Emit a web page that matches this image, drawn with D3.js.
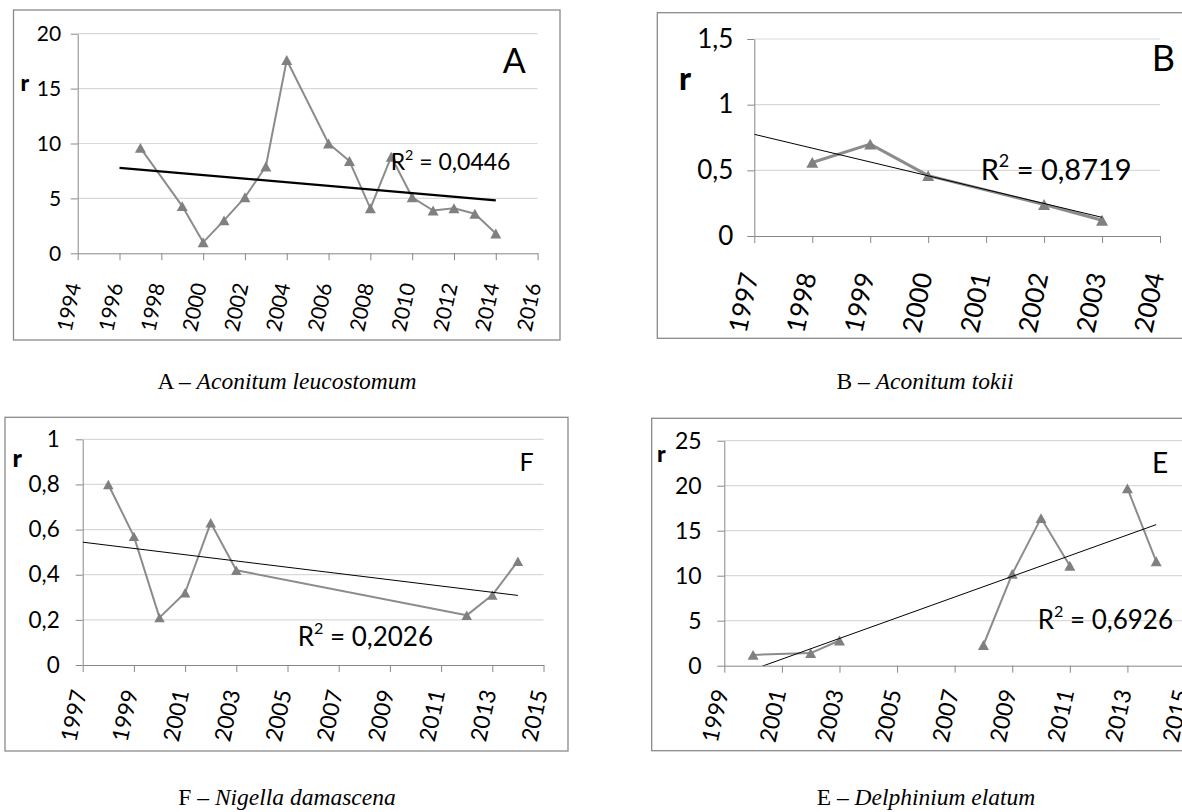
<!DOCTYPE html>
<html>
<head>
<meta charset="utf-8">
<script src="https://cdn.jsdelivr.net/npm/d3@7"></script>
<style>
  body { margin: 0; background: #fff; }
  svg { display: block; }
</style>
</head>
<body>
<svg id="fig" width="1182" height="812"></svg>
<script>
// Intrinsic growth rate r by census year, four species, each with a linear trend.

// A – Aconitum leucostomum
const yearsA = [1997, 1999, 2000, 2001, 2002, 2003, 2004, 2006, 2007, 2008, 2009, 2010, 2011, 2012, 2013, 2014];
const rA     = [9.6, 4.3, 1.0, 3.0, 5.1, 7.9, 17.6, 10.0, 8.4, 4.1, 8.8, 5.1, 3.9, 4.1, 3.6, 1.8];
const r2A    = "0,0446";
const xTicksA = [1994, 1996, 1998, 2000, 2002, 2004, 2006, 2008, 2010, 2012, 2014, 2016];
const yTicksA = [0, 5, 10, 15, 20];

// B – Aconitum tokii
const yearsB = [1998, 1999, 2000, 2002, 2003];
const rB     = [0.56, 0.70, 0.46, 0.24, 0.12];
const r2B    = "0,8719";
const xTicksB = [1997, 1998, 1999, 2000, 2001, 2002, 2003, 2004];
const yTicksB = [0, 0.5, 1, 1.5];

// F – Nigella damascena
const yearsF = [1998, 1999, 2000, 2001, 2002, 2003, 2012, 2013, 2014];
const rF     = [0.80, 0.57, 0.21, 0.32, 0.63, 0.42, 0.22, 0.31, 0.46];
const r2F    = "0,2026";
const xTicksF = [1997, 1999, 2001, 2003, 2005, 2007, 2009, 2011, 2013, 2015];
const yTicksF = [0, 0.2, 0.4, 0.6, 0.8, 1];

// E – Delphinium elatum (null = year without a census, the line breaks there)
const yearsE = [2000, 2002, 2003, 2004, 2005, 2006, 2007, 2008, 2009, 2010, 2011, 2012, 2013, 2014];
const rE     = [1.2, 1.4, 2.8, null, null, null, null, 2.3, 10.2, 16.4, 11.1, null, 19.7, 11.6];
const r2E    = "0,6926";
const xTicksE = [1999, 2001, 2003, 2005, 2007, 2009, 2011, 2013, 2015];
const yTicksE = [0, 5, 10, 15, 20, 25];

const SANS = 'Lato, "Open Sans", sans-serif';
const SERIF = '"Liberation Serif", "Times New Roman", serif';
const fmtComma = v => String(v).replace('.', ',');

const svg = d3.select('#fig');
const defs = svg.append('defs');

// triangle marker centred on its bounding box
const triangle = {
  draw(ctx, size) {
    const w = Math.sqrt(size);
    const h = w * 0.9;
    ctx.moveTo(0, -h / 2);
    ctx.lineTo(w / 2, h / 2);
    ctx.lineTo(-w / 2, h / 2);
    ctx.closePath();
  }
};

// least-squares line through the defined points
function linearFit(xs, ys) {
  const pts = xs.map((x, i) => [x, ys[i]]).filter(p => p[1] != null);
  const mx = d3.mean(pts, p => p[0]);
  const my = d3.mean(pts, p => p[1]);
  const sxy = d3.sum(pts, p => (p[0] - mx) * (p[1] - my));
  const sxx = d3.sum(pts, p => (p[0] - mx) ** 2);
  const b = sxy / sxx;
  return x => my + b * (x - mx);
}

function drawPanel(cfg, idx) {
  const g = svg.append('g');
  const p = cfg.plot;

  // chart frame
  g.append('rect')
    .attr('x', cfg.frame[0]).attr('y', cfg.frame[1])
    .attr('width', cfg.frame[2] - cfg.frame[0]).attr('height', cfg.frame[3] - cfg.frame[1])
    .attr('fill', 'none').attr('stroke', '#8a8a8a').attr('stroke-width', 1.3);

  const x = d3.scaleLinear().domain(cfg.xDomain).range([p.left, p.right]);
  const y = d3.scaleLinear().domain(cfg.yDomain).range([p.bottom, p.top]);

  // horizontal gridlines
  g.append('g').selectAll('line')
    .data(cfg.yTicks.filter(v => v > cfg.yDomain[0]))
    .join('line')
    .attr('x1', p.left).attr('x2', p.right)
    .attr('y1', d => y(d)).attr('y2', d => y(d))
    .attr('stroke', '#d9d9d9').attr('stroke-width', 1.2);

  // y axis
  const ya = g.append('g')
    .attr('transform', `translate(${p.left},0)`)
    .call(d3.axisLeft(y).tickValues(cfg.yTicks).tickSize(7).tickSizeOuter(0)
      .tickPadding(cfg.yPad).tickFormat(fmtComma));
  ya.select('.domain').attr('stroke', '#888');
  ya.selectAll('.tick line').attr('stroke', '#888');
  ya.selectAll('.tick text')
    .attr('fill', '#000').attr('font-family', SANS).attr('font-size', cfg.tickFont);

  // x axis with steeply rotated year labels
  const xa = g.append('g')
    .attr('transform', `translate(0,${p.bottom})`)
    .call(d3.axisBottom(x).tickValues(cfg.xTicks).tickSize(7).tickSizeOuter(0)
      .tickFormat(d => String(d)));
  xa.select('.domain').attr('stroke', '#888');
  xa.selectAll('.tick line').attr('stroke', '#888');
  xa.selectAll('.tick text')
    .attr('x', 0).attr('y', 0).attr('dy', '0.35em')
    .attr('transform', `translate(${cfg.xLabDx},${cfg.xLabDy}) rotate(-78)`)
    .attr('text-anchor', 'end')
    .attr('fill', '#000').attr('font-family', SANS).attr('font-size', cfg.tickFont);

  // clip for the trend line (it may run below zero)
  const clipId = 'clip' + idx;
  defs.append('clipPath').attr('id', clipId)
    .append('rect').attr('x', p.left).attr('y', p.top)
    .attr('width', p.right - p.left).attr('height', p.bottom - p.top);

  const pts = cfg.years.map((yr, i) => ({ x: yr, r: cfg.values[i] }));

  // observed series
  g.append('path')
    .datum(pts)
    .attr('fill', 'none')
    .attr('stroke', '#8c8c8c')
    .attr('stroke-width', cfg.lineWidth)
    .attr('stroke-linejoin', 'round')
    .attr('d', d3.line().defined(d => d.r != null).x(d => x(d.x)).y(d => y(d.r)));

  g.append('g').selectAll('path')
    .data(pts.filter(d => d.r != null))
    .join('path')
    .attr('transform', d => `translate(${x(d.x)},${y(d.r)})`)
    .attr('d', d3.symbol(triangle, cfg.marker * cfg.marker))
    .attr('fill', '#808080');

  // linear trend
  const fit = linearFit(cfg.years, cfg.values);
  g.append('path')
    .attr('clip-path', `url(#${clipId})`)
    .datum(cfg.trendRange)
    .attr('fill', 'none')
    .attr('stroke', '#000')
    .attr('stroke-width', cfg.trendWidth)
    .attr('d', d3.line().x(d => x(d)).y(d => y(fit(d))));

  // R² annotation
  const r2 = g.append('text')
    .attr('x', cfg.r2Pos[0]).attr('y', cfg.r2Pos[1])
    .attr('font-family', SANS).attr('font-size', cfg.r2Font).attr('fill', '#000');
  r2.append('tspan').text('R');
  r2.append('tspan').attr('dy', -cfg.r2Font * 0.45).attr('font-size', cfg.r2Font * 0.62).text('2');
  r2.append('tspan').attr('dy', cfg.r2Font * 0.45).text(' = ' + cfg.r2);

  // panel letter
  g.append('text')
    .attr('x', cfg.letterPos[0]).attr('y', cfg.letterPos[1])
    .attr('font-family', SANS).attr('font-size', cfg.letterFont).attr('fill', '#000')
    .text(cfg.letter);

  // y-axis title
  g.append('text')
    .attr('x', cfg.rPos[0]).attr('y', cfg.rPos[1])
    .attr('font-family', SANS).attr('font-weight', 900).attr('font-size', cfg.rFont).attr('fill', '#000')
    .text('r');

  // caption under the chart
  const cap = svg.append('text')
    .attr('x', cfg.captionPos[0]).attr('y', cfg.captionPos[1])
    .attr('text-anchor', 'middle')
    .attr('font-family', SERIF).attr('font-size', 23.5).attr('fill', '#000');
  cap.append('tspan').text(cfg.letter + ' – ');
  cap.append('tspan').attr('font-style', 'italic').text(cfg.species);
}

const panels = [
  {
    letter: 'A', species: 'Aconitum leucostomum',
    years: yearsA, values: rA, r2: r2A, xTicks: xTicksA, yTicks: yTicksA,
    xDomain: [1994, 2016], yDomain: [0, 20],
    frame: [13.5, 10, 560, 340],
    plot: { left: 77.7, right: 537.6, top: 33.7, bottom: 253.3 },
    tickFont: 21, yPad: 9.5, xLabDx: -4, xLabDy: 30,
    lineWidth: 2, marker: 11, trendWidth: 2.2, trendRange: [1996, 2014],
    r2Pos: [390.7, 170], r2Font: 23,
    letterPos: [502.7, 72.7], letterFont: 34,
    rPos: [20.5, 90.5], rFont: 23,
    captionPos: [287, 389]
  },
  {
    letter: 'B', species: 'Aconitum tokii',
    years: yearsB, values: rB, r2: r2B, xTicks: xTicksB, yTicks: yTicksB,
    xDomain: [1997, 2004], yDomain: [0, 1.5],
    frame: [657.3, 12.7, 1193, 338.3],
    plot: { left: 754.3, right: 1160, top: 39, bottom: 236 },
    tickFont: 26, yPad: 14, xLabDx: -5, xLabDy: 37,
    lineWidth: 3, marker: 12, trendWidth: 1, trendRange: [1997, 2003],
    r2Pos: [980.7, 180], r2Font: 29,
    letterPos: [1151.7, 70.7], letterFont: 36,
    rPos: [679, 90], rFont: 32,
    captionPos: [925, 389]
  },
  {
    letter: 'F', species: 'Nigella damascena',
    years: yearsF, values: rF, r2: r2F, xTicks: xTicksF, yTicks: yTicksF,
    xDomain: [1997, 2015], yDomain: [0, 1],
    frame: [5, 417.3, 568, 751],
    plot: { left: 82.7, right: 543.5, top: 439.3, bottom: 665 },
    tickFont: 22.5, yPad: 16, xLabDx: -4, xLabDy: 25,
    lineWidth: 2, marker: 10.5, trendWidth: 1, trendRange: [1997, 2014],
    r2Pos: [297.7, 645.7], r2Font: 26,
    letterPos: [519.5, 471], letterFont: 25,
    rPos: [12.5, 466.7], rFont: 25,
    captionPos: [287, 805]
  },
  {
    letter: 'E', species: 'Delphinium elatum',
    years: yearsE, values: rE, r2: r2E, xTicks: xTicksE, yTicks: yTicksE,
    xDomain: [1999, 2015], yDomain: [0, 25],
    frame: [651.7, 418.3, 1200, 750.7],
    plot: { left: 724.3, right: 1185, top: 440.7, bottom: 665.7 },
    tickFont: 23, yPad: 15.6, xLabDx: -4, xLabDy: 24,
    lineWidth: 2, marker: 11, trendWidth: 1, trendRange: [2000, 2014],
    r2Pos: [1037.7, 629], r2Font: 26,
    letterPos: [1152, 473], letterFont: 28,
    rPos: [657, 462.3], rFont: 23,
    captionPos: [926, 805]
  }
];

panels.forEach(drawPanel);
</script>
</body>
</html>
